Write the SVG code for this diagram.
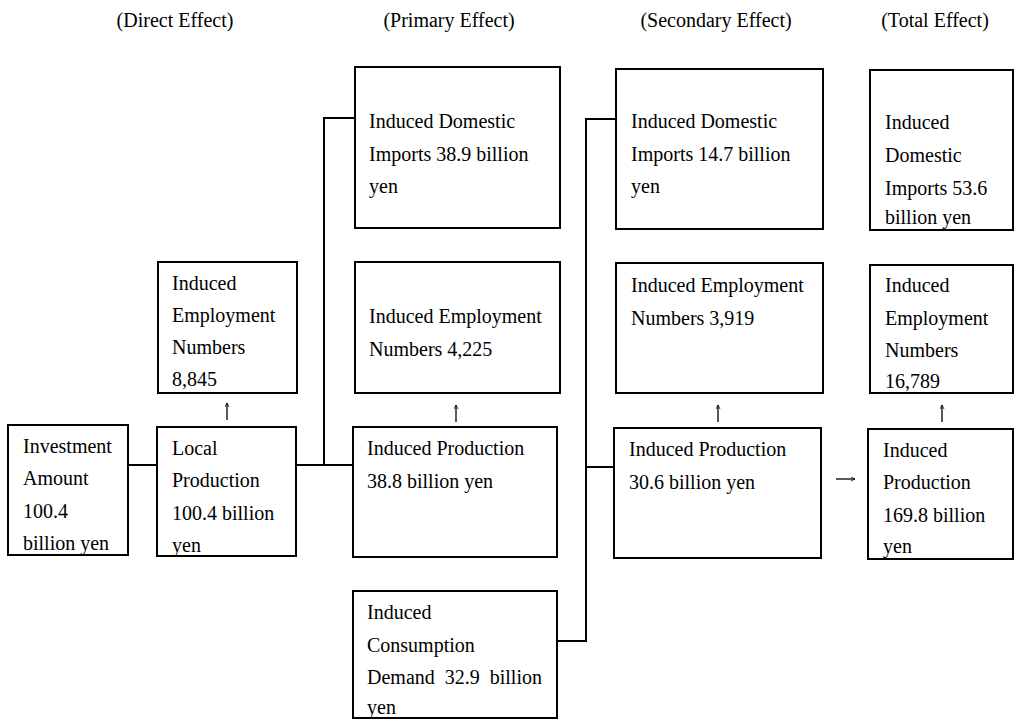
<svg xmlns="http://www.w3.org/2000/svg" width="1015" height="720" viewBox="0 0 1015 720">
<style>
.box{fill:#fff;stroke:#000;stroke-width:2}
.t{font-family:"Liberation Serif","Times New Roman",serif;font-size:20px;fill:#000}
.c{fill:none;stroke:#000;stroke-width:2}
.a{fill:none;stroke:#000;stroke-width:1.3}
</style>
<defs>
<marker id="ah" viewBox="0 0 10 10" refX="9" refY="5" markerWidth="5" markerHeight="5" orient="auto" markerUnits="userSpaceOnUse">
<path d="M1,1 L9,5 L1,9" fill="none" stroke="#000" stroke-width="1.5"/>
</marker>
</defs>
<rect width="1015" height="720" fill="#fff"/>
<g id="headers" class="t" text-anchor="middle">
<text x="175" y="27">(Direct Effect)</text>
<text x="449" y="27">(Primary Effect)</text>
<text x="716" y="27">(Secondary Effect)</text>
<text x="935" y="27">(Total Effect)</text>
</g>
<g id="connectors">
<path class="c" d="M128,465 H157"/>
<path class="c" d="M296,465 H353"/>
<path class="c" d="M324,465 V118 H355"/>
<path class="c" d="M557,641 H586 V119 H616"/>
<path class="c" d="M586,467 H614"/>
<path class="a" d="M227,420 V403" marker-end="url(#ah)"/>
<path class="a" d="M456,422 V405" marker-end="url(#ah)"/>
<path class="a" d="M718,422 V405" marker-end="url(#ah)"/>
<path class="a" d="M942,422 V405" marker-end="url(#ah)"/>
<path class="a" d="M836,479 H855" marker-end="url(#ah)"/>
</g>
<g id="investment">
<rect class="box" x="8" y="425" width="120" height="130"/>
<text class="t" x="23" y="453">Investment</text>
<text class="t" x="23" y="485">Amount</text>
<text class="t" x="23" y="518">100.4</text>
<text class="t" x="23" y="550">billion yen</text>
</g>
<g id="local-production">
<rect class="box" x="157" y="427" width="139" height="129"/>
<text class="t" x="172" y="455">Local</text>
<text class="t" x="172" y="487">Production</text>
<text class="t" x="172" y="520">100.4 billion</text>
<text class="t" x="172" y="552">yen</text>
</g>
<g id="direct-employment">
<rect class="box" x="158" y="262" width="139" height="131"/>
<text class="t" x="172" y="290">Induced</text>
<text class="t" x="172" y="322">Employment</text>
<text class="t" x="172" y="354">Numbers</text>
<text class="t" x="172" y="386">8,845</text>
</g>
<g id="primary-imports">
<rect class="box" x="355" y="67" width="205" height="161"/>
<text class="t" x="369" y="128">Induced Domestic</text>
<text class="t" x="369" y="161">Imports 38.9 billion</text>
<text class="t" x="369" y="193">yen</text>
</g>
<g id="primary-employment">
<rect class="box" x="355" y="262" width="205" height="131"/>
<text class="t" x="369" y="323">Induced Employment</text>
<text class="t" x="369" y="356">Numbers 4,225</text>
</g>
<g id="primary-production">
<rect class="box" x="353" y="427" width="204" height="130"/>
<text class="t" x="367" y="455">Induced Production</text>
<text class="t" x="367" y="488">38.8 billion yen</text>
</g>
<g id="consumption">
<rect class="box" x="353" y="591" width="204" height="127"/>
<text class="t" x="367" y="619">Induced</text>
<text class="t" x="367" y="652">Consumption</text>
<text class="t" x="367" y="684" word-spacing="5">Demand 32.9 billion</text>
<text class="t" x="367" y="714">yen</text>
</g>
<g id="secondary-imports">
<rect class="box" x="616" y="69" width="207" height="160"/>
<text class="t" x="631" y="128">Induced Domestic</text>
<text class="t" x="631" y="161">Imports 14.7 billion</text>
<text class="t" x="631" y="193">yen</text>
</g>
<g id="secondary-employment">
<rect class="box" x="616" y="263" width="207" height="130"/>
<text class="t" x="631" y="292">Induced Employment</text>
<text class="t" x="631" y="325">Numbers 3,919</text>
</g>
<g id="secondary-production">
<rect class="box" x="614" y="428" width="207" height="130"/>
<text class="t" x="629" y="456">Induced Production</text>
<text class="t" x="629" y="489">30.6 billion yen</text>
</g>
<g id="total-imports">
<rect class="box" x="870" y="70" width="143" height="160"/>
<text class="t" x="885" y="129">Induced</text>
<text class="t" x="885" y="162">Domestic</text>
<text class="t" x="885" y="195">Imports 53.6</text>
<text class="t" x="885" y="224">billion yen</text>
</g>
<g id="total-employment">
<rect class="box" x="870" y="265" width="143" height="128"/>
<text class="t" x="885" y="292">Induced</text>
<text class="t" x="885" y="325">Employment</text>
<text class="t" x="885" y="357">Numbers</text>
<text class="t" x="885" y="388">16,789</text>
</g>
<g id="total-production">
<rect class="box" x="868" y="429" width="145" height="130"/>
<text class="t" x="883" y="457">Induced</text>
<text class="t" x="883" y="489">Production</text>
<text class="t" x="883" y="522">169.8 billion</text>
<text class="t" x="883" y="553">yen</text>
</g>
</svg>
